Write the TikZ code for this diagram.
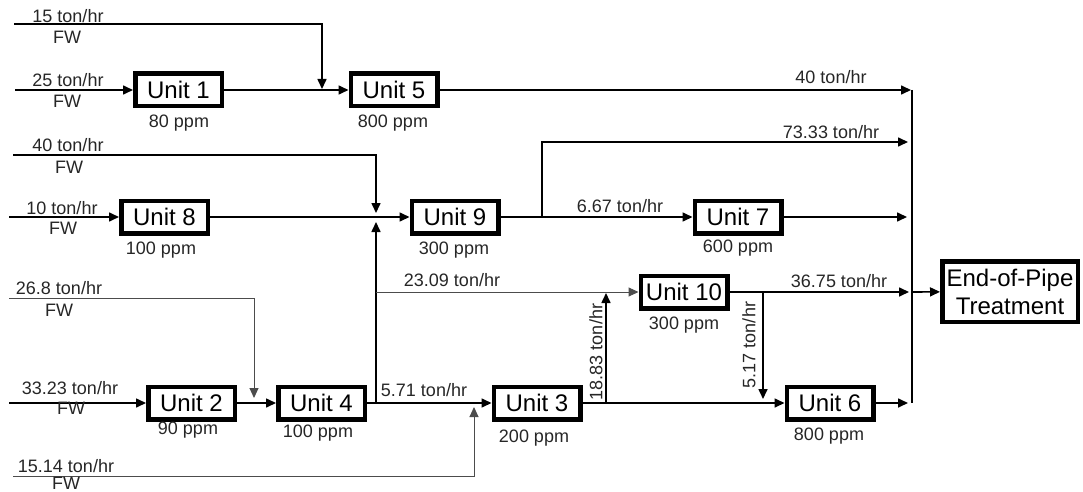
\documentclass[tikz,border=0pt]{standalone}
\usepackage{fontspec}
\setmainfont{Liberation Sans}
\usetikzlibrary{arrows.meta}
\begin{document}
\begin{tikzpicture}[x=1pt,y=-1pt,
  unit/.style={draw=black,line width=4.5pt,fill=white,minimum width=86.5pt,minimum height=32.5pt,inner sep=0pt,font=\fontsize{24}{28}\selectfont},
  flow/.style={line width=1.6pt,-{Triangle[length=10pt,width=9pt]}},
  feed/.style={line width=1pt,black!70,-{Triangle[length=10pt,width=9pt]}},
  lbl/.style={font=\fontsize{18}{20}\selectfont,text=black!85,inner sep=0pt}]
  \useasboundingbox (0,0) rectangle (1083,492);
  \node[unit] (u1) at (178.5,90) {Unit 1};
  \node[unit] (u5) at (394,90) {Unit 5};
  \node[unit] (u8) at (164.5,217) {Unit 8};
  \node[unit] (u9) at (455,217) {Unit 9};
  \node[unit] (u7) at (738,217) {Unit 7};
  \node[unit] (u10) at (684,292) {Unit 10};
  \node[unit] (u2) at (191.5,403) {Unit 2};
  \node[unit] (u4) at (321.5,403) {Unit 4};
  \node[unit] (u3) at (537,403) {Unit 3};
  \node[unit] (u6) at (830,403) {Unit 6};
  \node[unit,minimum width=135.5pt,minimum height=60.5pt,align=center] (eop) at (1010,291.5) {End-of-Pipe\\Treatment};
  \coordinate (s15) at (14,24);
  \coordinate (s25) at (15,90);
  \coordinate (s40) at (13,155);
  \coordinate (s10) at (9,217);
  \coordinate (s268) at (9,298);
  \coordinate (s3323) at (9,403);
  \coordinate (s1514) at (13,476);
  \coordinate (k5) at (322,90);
  \coordinate (j9) at (376,217);
  \coordinate (b4) at (376,403);
  \coordinate (b23) at (376,292);
  \coordinate (k4) at (254,403);
  \coordinate (k3) at (474,403);
  \coordinate (b9) at (542,217);
  \coordinate (b3) at (606,403);
  \coordinate (k10) at (606,292);
  \coordinate (b10) at (763,292);
  \coordinate (k6) at (763,403);
  \coordinate (e40) at (911,90);
  \coordinate (e73) at (908,142);
  \coordinate (e7) at (907,217);
  \coordinate (e36) at (909,292);
  \coordinate (e6) at (908,403);
  \coordinate (c1) at (912,90);
  \coordinate (c2) at (912,403);
  \coordinate (c3) at (912,292);
  \draw[flow,shorten >=1pt] (s15) -| (k5);
  \draw[flow] (s25) -- (u1);
  \draw[flow] (u1) -- (u5);
  \draw[flow] (u5) -- (e40);
  \draw[flow,shorten >=4pt] (s40) -| (j9);
  \draw[flow] (s10) -- (u8);
  \draw[flow] (u8) -- (u9);
  \draw[flow] (u9) -- (u7);
  \draw[flow] (b9) |- (e73);
  \draw[flow] (u7) -- (e7);
  \draw[feed,shorten >=5pt] (s268) -| (k4);
  \draw[flow] (s3323) -- (u2);
  \draw[flow] (u2) -- (u4);
  \draw[flow] (u4) -- (u3);
  \draw[flow,shorten >=5pt] (b4) -- (j9);
  \draw[feed] (b23) -- (u10);
  \draw[feed,shorten >=4pt] (s1514) -| (k3);
  \draw[flow] (u3) -- (u6);
  \draw[flow,shorten >=1pt] (b3) -- (k10);
  \draw[flow] (u10) -- (e36);
  \draw[flow,shorten >=4pt] (b10) -- (k6);
  \draw[flow] (u6) -- (e6);
  \draw[line width=1.3pt] (c1) -- (c2);
  \draw[flow] (c3) -- (eop);
  \node[lbl] at (68,16) {15 ton/hr};
  \node[lbl] at (67,37) {FW};
  \node[lbl] at (68,80) {25 ton/hr};
  \node[lbl] at (67,101) {FW};
  \node[lbl] at (68,145) {40 ton/hr};
  \node[lbl] at (69,167) {FW};
  \node[lbl] at (62,208) {10 ton/hr};
  \node[lbl] at (63,228) {FW};
  \node[lbl] at (59,288) {26.8 ton/hr};
  \node[lbl] at (59,310) {FW};
  \node[lbl] at (70,388) {33.23 ton/hr};
  \node[lbl] at (71,408) {FW};
  \node[lbl] at (66,466) {15.14 ton/hr};
  \node[lbl] at (66,483) {FW};
  \node[lbl] at (831,77) {40 ton/hr};
  \node[lbl] at (831,132) {73.33 ton/hr};
  \node[lbl] at (620,206) {6.67 ton/hr};
  \node[lbl] at (452,280) {23.09 ton/hr};
  \node[lbl] at (424,390) {5.71 ton/hr};
  \node[lbl] at (839,281) {36.75 ton/hr};
  \node[lbl,rotate=90] at (596,352) {18.83 ton/hr};
  \node[lbl,rotate=90] at (749,345) {5.17 ton/hr};
  \node[lbl] at (179,123) {80 ppm};
  \node[lbl] at (393,123) {800 ppm};
  \node[lbl] at (161,250) {100 ppm};
  \node[lbl] at (454,250) {300 ppm};
  \node[lbl] at (738,248) {600 ppm};
  \node[lbl] at (684,325) {300 ppm};
  \node[lbl] at (188,430) {90 ppm};
  \node[lbl] at (318,433) {100 ppm};
  \node[lbl] at (534,438) {200 ppm};
  \node[lbl] at (829,436) {800 ppm};
\end{tikzpicture}
\end{document}
